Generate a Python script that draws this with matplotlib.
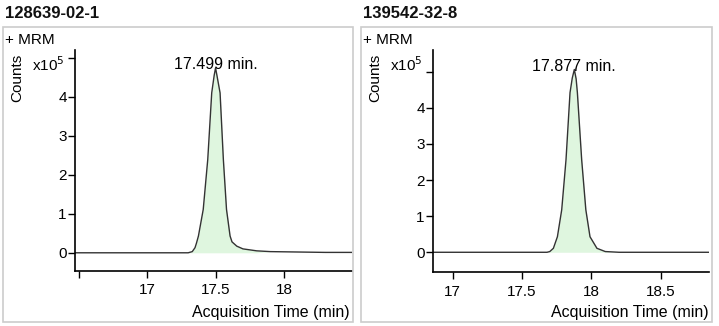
import matplotlib
matplotlib.use("Agg")
import matplotlib.pyplot as plt
from matplotlib.patches import Rectangle

# 2つのクロマトグラムのデータ (時間[min], カウント x10^5)
titles = ["128639-02-1", "139542-32-8"]
peak_labels = ["17.499 min.", "17.877 min."]
peak_times = [17.499, 17.877]

time_a = [16.47, 17.30, 17.33, 17.35, 17.36, 17.375, 17.41, 17.443, 17.472,
          17.49, 17.50, 17.51, 17.533, 17.557, 17.58, 17.606, 17.62, 17.655,
          17.70, 17.80, 17.90, 18.10, 18.30, 18.50]
counts_a = [0.0, 0.0, 0.03, 0.13, 0.24, 0.43, 1.11, 2.39, 4.10,
            4.55, 4.74, 4.55, 4.10, 2.39, 1.11, 0.43, 0.28, 0.17,
            0.10, 0.05, 0.03, 0.02, 0.01, 0.01]

time_b = [16.86, 17.68, 17.70, 17.726, 17.755, 17.786, 17.817, 17.846, 17.862,
          17.877, 17.89, 17.899, 17.93, 17.96, 17.99, 18.04, 18.10, 18.20, 18.85]
counts_b = [0.0, 0.0, 0.02, 0.11, 0.43, 1.175, 2.56, 4.42, 4.82,
            5.06, 4.80, 4.42, 2.56, 1.175, 0.43, 0.11, 0.02, 0.0, 0.0]

fill_ranges = [(17.32, 17.84), (17.70, 18.15)]
x_ticks = [[16.5, 17, 17.5, 18], [17, 17.5, 18, 18.5]]
x_ticklabels = [["", "17", "17.5", "18"], ["17", "17.5", "18", "18.5"]]
y_ticks = [0, 1, 2, 3, 4, 5]
y_ticklabels = ["0", "1", "2", "3", "4", ""]

plt.rcParams["font.family"] = ["Liberation Sans", "DejaVu Sans"]

W, H = 719, 326
fig = plt.figure(figsize=(W / 100, H / 100), dpi=100)


def fx(px):
    return px / W


def fy(py):
    return 1 - py / H


# パネルごとの配置 (ピクセル)
boxes = [(3, 27, 353, 322), (361, 27, 712, 322)]
axes_px = [(75, 50, 352, 271), (433, 50, 709, 272)]
xlims = [(16.474, 18.496), (16.858, 18.848)]
ylims = [(-0.467, 5.2), (-0.546, 5.6)]
series = [(time_a, counts_a), (time_b, counts_b)]

for i in range(2):
    bx0, by0, bx1, by1 = boxes[i]
    fig.patches.append(Rectangle((fx(bx0), fy(by1)), fx(bx1 - bx0), (by1 - by0) / H,
                                 transform=fig.transFigure, fill=False,
                                 edgecolor="#cccccc", linewidth=1.2))
    fig.text(fx(bx0 + 2), fy(13), titles[i], fontsize=12, fontweight="bold",
             va="center", ha="left", color="#111111")
    fig.text(fx(bx0 + 2), fy(40), "+ MRM", fontsize=11, va="center", ha="left")
    fig.text(fx(bx0 + 14), fy(78), "Counts", fontsize=11, rotation=90,
             va="center", ha="center")
    fig.text(fx(bx0 + 29), fy(71), r"x10$^5$", fontsize=11, va="baseline", ha="left")

    ax0, ay0, ax1, ay1 = axes_px[i]
    ax = fig.add_axes([fx(ax0), fy(ay1), fx(ax1 - ax0), (ay1 - ay0) / H])
    t, c = series[i]
    lo, hi = fill_ranges[i]
    ax.fill_between(t, c, 0, where=[lo <= v <= hi for v in t],
                    color="#dff6df", linewidth=0, interpolate=True)
    ax.plot(t, c, color="#333333", linewidth=1.0)
    ax.annotate(peak_labels[i], (peak_times[i], max(c)), xytext=(0, -1),
                textcoords="offset points", ha="center", va="baseline", fontsize=11.5)

    ax.set_xlim(*xlims[i])
    ax.set_ylim(*ylims[i])
    ax.set_xticks(x_ticks[i])
    ax.set_xticklabels(x_ticklabels[i])
    ax.set_yticks(y_ticks)
    ax.set_yticklabels(y_ticklabels)
    ax.tick_params(axis="both", direction="out", length=5, width=1, labelsize=11)
    ax.tick_params(axis="y", pad=1)
    ax.tick_params(axis="x", pad=4)
    for s in ["top", "right"]:
        ax.spines[s].set_visible(False)
    for s in ["left", "bottom"]:
        ax.spines[s].set_linewidth(1.2)
    ax.patch.set_alpha(0)

    fig.text(fx(bx1 - 3), fy(312), "Acquisition Time (min)", fontsize=11.5,
             ha="right", va="center")

fig.savefig("out.png", dpi=100)
